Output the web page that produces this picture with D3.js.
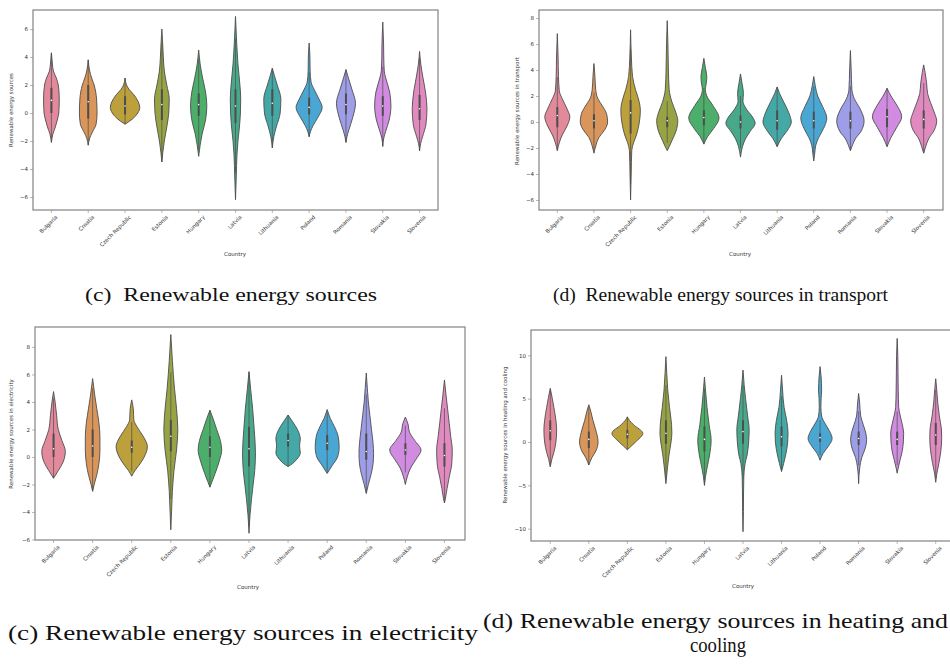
<!DOCTYPE html>
<html>
<head>
<meta charset="utf-8">
<script src="https://cdn.jsdelivr.net/npm/d3@7"></script>
<style>
  body { margin: 0; background: #fff; }
  svg { display: block; }
</style>
</head>
<body>
<svg id="chart" width="950" height="670"></svg>
<script>
// categories
const countries = ["Bulgaria", "Croatia", "Czech Republic", "Estonia", "Hungary", "Latvia",
  "Lithuania", "Poland", "Romania", "Slovakia", "Slovenia"];

// violin outlines: [value, density] from top to bottom
// (c) renewable energy sources
const ticksRes = [6, 4, 2, 0, -2, -4, -6];
const shapeRes = [
  [[4.3,0],[3.5,1],[3,2],[2.5,5],[2,7],[1,8],[0,7.5],[-0.5,6],[-1,4],[-1.5,1.5],[-2.1,0]],
  [[3.8,0],[3,1.5],[2.5,3.5],[2,6],[1,8.5],[0,9],[-0.8,8],[-1.4,4],[-1.8,1.5],[-2.3,0]],
  [[2.5,0],[2,1.5],[1.7,4],[1.3,9],[0.8,13.5],[0.4,15],[0,13],[-0.4,8],[-0.8,0]],
  [[6,0],[5,0.8],[4,1.5],[3,2.5],[2,5],[1,7.5],[0,7],[-1,5],[-2,2.5],[-2.8,1],[-3.5,0]],
  [[4.5,0],[3.5,1.5],[2.5,4],[1.5,7],[0.5,8.3],[-0.5,7],[-1.5,3.5],[-2.3,1.5],[-3.1,0]],
  [[6.9,0],[5,1.2],[3.5,2.5],[2,4.5],[1,5.3],[0,5],[-1,4],[-2,2.5],[-3,1.5],[-4.5,0.8],[-6.2,0]],
  [[3.2,0],[2.7,2],[2,5],[1,8.7],[0,8],[-1,4],[-1.7,1.5],[-2.5,0]],
  [[5,0],[4,0.8],[3,1],[2.2,2],[1.7,5],[1,10],[0.4,13.3],[-0.3,9],[-0.9,4],[-1.3,1.5],[-1.7,0]],
  [[3.1,0],[2.5,2.5],[1.7,6],[0.7,9.7],[-0.3,7],[-1.2,3],[-1.7,1],[-2.1,0]],
  [[6.5,0],[5,0.8],[4,1],[3,1.5],[2.5,3],[1.5,7],[0.5,8.3],[-0.5,6.5],[-1.3,3],[-1.8,1],[-2.4,0]],
  [[4.4,0],[3.5,1.2],[2.5,3.5],[1.5,6],[0.3,7.5],[-0.8,6.5],[-1.7,3],[-2.2,1],[-2.7,0]]
];
// [q1, median, q3]
const boxRes = [[0,0.9,1.8],[-0.4,0.8,2],[-0.1,0.5,1.2],[-0.5,0.6,1.7],[-0.2,0.6,1.4],[-0.7,0.5,1.7],
  [-0.2,0.7,1.7],[-0.1,0.4,1.1],[-0.1,0.6,1.4],[-0.2,0.5,1.2],[-0.5,0.3,1.3]];

// (d) renewable energy sources in transport
const ticksTra = [8, 6, 4, 2, 0, -2, -4, -6];
const shapeTra = [
  [[6.8,0],[5,0.8],[3.5,1.2],[2.4,2],[1.8,5],[1,10],[0.4,12.8],[-0.3,10],[-1,5],[-1.6,2],[-2.2,0]],
  [[4.5,0],[3.5,1],[2.5,1.8],[1.8,4],[1.2,9],[0.6,13],[0,14],[-0.6,11],[-1.2,5],[-1.8,2],[-2.4,0]],
  [[7.1,0],[5,0.8],[3.5,2],[2.5,5],[1.5,9],[0.9,10],[0,9],[-1,6],[-1.6,3],[-2.2,1.2],[-4,0.6],[-6,0]],
  [[7.8,0],[6,0.7],[4,1.2],[2.5,2],[1.5,5],[0.7,9],[0.1,10.8],[-0.7,9],[-1.4,5],[-1.9,2],[-2.2,0]],
  [[4.9,0],[4.2,1.5],[3.5,3],[3,2.5],[2.5,1.5],[2,3],[1.3,9],[0.3,15.5],[-0.5,10],[-1.1,4],[-1.7,0]],
  [[3.7,0],[3,1.5],[2.2,3],[1.6,2.5],[1,6],[0.3,13],[-0.1,15],[-0.7,10],[-1.3,5],[-1.9,2],[-2.7,0]],
  [[2.7,0],[2.2,2.5],[1.5,7],[0.7,12],[0,14.5],[-0.7,10],[-1.3,4],[-1.9,0]],
  [[3.5,0],[2.8,1.5],[2,4],[1.2,9],[0.3,13.3],[-0.5,10],[-1.2,5],[-1.8,2],[-2.4,1],[-3,0]],
  [[5.5,0],[4,0.8],[2.5,1.5],[1.8,4],[1,10],[0.1,14],[-0.7,11],[-1.3,5],[-1.8,2],[-2.2,0]],
  [[2.6,0],[2,4],[1.3,10],[0.4,15],[-0.4,10],[-1.2,4],[-1.9,0]],
  [[4.4,0],[3.8,1.5],[3,3],[2.2,4],[1.5,7],[0.7,11],[0.1,13.3],[-0.6,11],[-1.3,5],[-1.9,2],[-2.4,0]]
];
const boxTra = [[-0.4,0.5,1.15],[-0.5,0.1,0.6],[-0.9,0.7,1.7],[-0.4,0.1,0.4],[-0.25,0.35,0.9],[-0.5,0,0.5],
  [-0.6,0.1,0.9],[-0.5,0.1,0.8],[-0.5,0.1,0.8],[-0.4,0.4,1],[-0.5,0.2,0.9]];

// (c) renewable energy sources in electricity
const ticksEle = [8, 6, 4, 2, 0, -2, -4, -6];
const shapeEle = [
  [[4.75,0],[4,1.5],[3,3],[2,4.5],[1.2,8],[0.4,11.3],[-0.4,9],[-1,4.5],[-1.55,0]],
  [[5.7,0],[4.5,2],[3.5,4],[2.5,6],[1.5,7],[0.5,7],[-0.5,6],[-1.3,4],[-2,1.5],[-2.5,0]],
  [[4.15,0],[3.5,1.5],[2.7,2],[2.2,5],[1.5,11],[0.75,15],[0,12],[-0.6,7],[-1,3],[-1.4,0]],
  [[8.9,0],[7,1.5],[5,3.5],[3.5,5.5],[2,6.7],[0.5,5.5],[-1,3],[-2.5,1.5],[-4,0.7],[-5.3,0]],
  [[3.4,0],[2.8,3],[2,6.5],[1.2,10],[0.5,11.3],[-0.3,9],[-1.2,5],[-1.8,2],[-2.2,0]],
  [[6.2,0],[5,1.5],[3.5,3.5],[2,5],[0.3,6.2],[-1,5.5],[-2,4],[-3,2.5],[-4.2,1],[-5.55,0]],
  [[3.05,0],[2.6,4],[2,9],[1.3,11.7],[0.8,11],[0.3,11.7],[-0.2,8],[-0.5,4],[-0.7,0]],
  [[3.45,0],[2.8,3],[2.2,7],[1.5,10.5],[0.7,11.5],[0,10],[-0.6,5],[-1.2,0]],
  [[6.1,0],[5,1],[4,2],[3,3.5],[2,5],[1,6.5],[0.25,7],[-0.5,6.5],[-1.3,4.5],[-2,2],[-2.65,0]],
  [[2.9,0],[2.4,2.5],[1.8,4],[1.2,9],[0.5,15],[-0.2,10],[-0.8,5],[-1.4,2],[-2,0]],
  [[5.6,0],[4.5,1.5],[3.5,3],[2.5,4.5],[1.5,6],[0.5,7.5],[-0.5,7],[-1.5,4.5],[-2.3,2.5],[-3,1],[-3.35,0]]
];
const boxEle = [[0,0.6,1.7],[0,0.8,2],[0.3,0.7,1.2],[0.4,1.5,2.7],[0,0.7,1.5],[-0.7,0.6,2.2],
  [0.75,1.2,1.7],[0.5,1,1.6],[-0.2,0.4,1.7],[0.15,0.5,1],[-0.7,0.1,1]];

// (d) renewable energy sources in heating and cooling
const ticksHea = [10, 5, 0, -5, -10];
const shapeHea = [
  [[6.2,0],[5,2],[4,3.5],[2.5,5.5],[1.4,6.2],[0,5.5],[-1.2,3.5],[-2,1.5],[-2.85,0]],
  [[4.3,0],[3.5,2],[2.5,4],[1.5,6.5],[0,9],[-1,7],[-1.8,3],[-2.65,0]],
  [[2.9,0],[2.5,2],[2,6],[1,15],[0,8],[-0.5,3.5],[-0.9,0]],
  [[9.85,0],[8,0.8],[6,1.8],[4,3.5],[2,5.5],[1,5.8],[0,5],[-1.5,3],[-3,1.5],[-4.8,0]],
  [[7.5,0],[6,1],[4,2.5],[2,4.5],[0.2,6.5],[-1.5,5],[-3,2.5],[-4,1],[-5,0]],
  [[8.3,0],[6.5,1.2],[5,2.5],[3,4.5],[1.4,6],[0,5.5],[-1.5,4],[-2.5,2],[-4,0.8],[-6,0.5],[-8,0.4],[-10.35,0]],
  [[7.7,0],[6,1],[4,2.5],[2.5,5],[1,6.3],[0,6],[-1.5,4],[-2.5,2],[-3.4,0]],
  [[8.7,0],[7.5,1],[6,1.5],[5,1],[4,0.8],[3,1.5],[2.3,4],[1.3,9],[0.4,11.7],[-0.5,8],[-1.3,3],[-2.1,0]],
  [[5.6,0],[4.5,1],[3,2],[2,4.5],[1,7],[0.3,7.8],[-0.7,6.5],[-1.8,3],[-3,1],[-4.8,0]],
  [[11.95,0],[10,0.6],[8,0.8],[6,1],[4,1.5],[3,3],[2,5],[1,6.3],[0,6],[-1,5],[-2,3],[-3,1],[-3.6,0]],
  [[7.3,0],[6,1],[4.5,2],[3,3.5],[1.5,5.5],[0.5,5.8],[-1,5],[-2.5,3],[-3.7,1],[-4.65,0]]
];
const boxHea = [[0.2,1.3,2.5],[-0.7,0.3,1.2],[0.4,0.9,1.4],[-0.2,1,2.5],[-1.1,0.3,1.8],[-0.2,1.2,2.5],
  [-0.5,0.6,1.8],[0,0.5,1],[-0.35,0.4,1.2],[-0.35,0.3,1.2],[-0.35,0.8,2.2]];

// fill colours (desaturated husl, one per country)
const palette = ["#e3899c", "#d9955a", "#bba03c", "#98a444", "#4cae6b", "#47a88a",
  "#43a8a6", "#4aa7d3", "#9e9de8", "#d18be0", "#e08abf"];

// layout of the four panels
const panels = [
  { shape: shapeRes, box: boxRes, ticks: ticksRes, ylabel: "Renewable energy sources",
    frame: [33, 438, 10, 210], band: [33, 438], yDom: [-6.93, 7.36],
    yl: [13, 110], xl: [235, 256],
    caption: ["(c)  Renewable energy sources"], cap: [[85, 301, 292, 18]] },
  { shape: shapeTra, box: boxTra, ticks: ticksTra, ylabel: "Renewable energy sources in transport",
    frame: [539, 943, 10, 210], band: [539, 942], yDom: [-6.77, 8.62],
    yl: [519, 111], xl: [740, 256],
    caption: ["(d)  Renewable energy sources in transport"], cap: [[553, 301, 335, 18]] },
  { shape: shapeEle, box: boxEle, ticks: ticksEle, ylabel: "Renewable energy sources in electricity",
    frame: [35, 465, 327, 540], band: [34, 464], yDom: [-6.04, 9.45],
    yl: [13, 434], xl: [248, 589],
    caption: ["(c) Renewable energy sources in electricity"], cap: [[8, 640, 470, 21]] },
  { shape: shapeHea, box: boxHea, ticks: ticksHea, ylabel: "Renewable energy sources in heating and cooling",
    frame: [531, 958, 330, 541], band: [531, 955], yDom: [-11.42, 12.92],
    yl: [507, 435], xl: [743, 588],
    caption: ["(d) Renewable energy sources in heating and", "cooling"],
    cap: [[483, 628, 465, 21], [690, 652, 56, 21]] }
];

const svg = d3.select("#chart");
const tickFont = "DejaVu Sans, sans-serif";
const edge = "#4d4d4d";

panels.forEach(p => {
  const [fx0, fx1, fy0, fy1] = p.frame;
  const g = svg.append("g");

  const x = d3.scaleBand().domain(countries).range(p.band).paddingInner(0).paddingOuter(0);
  const y = d3.scaleLinear().domain(p.yDom).range([fy1, fy0]);
  const dens = d3.scaleLinear().domain([0, 15]).range([0, x.bandwidth() * 0.4]);

  // frame
  g.append("rect")
    .attr("x", fx0).attr("y", fy0)
    .attr("width", fx1 - fx0).attr("height", fy1 - fy0)
    .attr("fill", "none").attr("stroke", "#8c8c8c").attr("stroke-width", 1.3);

  // axes
  const yAxis = d3.axisLeft(y).tickValues(p.ticks).tickSize(3).tickPadding(2)
    .tickFormat(d => d < 0 ? "\u2212" + Math.abs(d) : d);
  g.append("g").attr("transform", "translate(" + fx0 + ",0)").call(yAxis)
    .call(a => a.select(".domain").remove())
    .call(a => a.selectAll("line").attr("stroke", "#888").attr("stroke-width", 0.6))
    .call(a => a.selectAll("text").attr("font-size", 5.5).attr("font-family", tickFont).attr("fill", "#333"));

  const xAxis = d3.axisBottom(x).tickSize(3).tickPadding(2);
  g.append("g").attr("transform", "translate(0," + fy1 + ")").call(xAxis)
    .call(a => a.select(".domain").remove())
    .call(a => a.selectAll("line").attr("stroke", "#888").attr("stroke-width", 0.6))
    .call(a => a.selectAll("text")
      .attr("font-size", 5.5).attr("font-family", tickFont).attr("fill", "#333")
      .attr("text-anchor", "end").attr("dy", 0)
      .attr("transform", "translate(3,4) rotate(-45)"));

  // axis titles
  g.append("text")
    .attr("transform", "translate(" + p.yl[0] + "," + p.yl[1] + ") rotate(-90)")
    .attr("text-anchor", "middle").attr("font-size", 5.5).attr("font-family", tickFont)
    .attr("fill", "#333").text(p.ylabel);
  g.append("text")
    .attr("x", p.xl[0]).attr("y", p.xl[1])
    .attr("text-anchor", "middle").attr("font-size", 5.5).attr("font-family", tickFont)
    .attr("fill", "#333").text("Country");

  // violins
  const plot = g.append("g");
  countries.forEach((c, i) => {
    const cx = x(c) + x.bandwidth() / 2;
    const pts = p.shape[i];
    const area = d3.area()
      .y(d => y(d[0]))
      .x0(d => cx - dens(d[1]))
      .x1(d => cx + dens(d[1]))
      .curve(d3.curveMonotoneY);
    plot.append("path")
      .attr("d", area(pts.slice().reverse()))
      .attr("fill", palette[i])
      .attr("stroke", edge).attr("stroke-width", 0.9);

    // inner box: whiskers, quartile bar, median dot
    const [q1, med, q3] = p.box[i];
    const lo = d3.min(pts, d => d[0]), hi = d3.max(pts, d => d[0]);
    const iqr = q3 - q1;
    const wLo = Math.max(lo, q1 - 1.5 * iqr), wHi = Math.min(hi, q3 + 1.5 * iqr);
    plot.append("line")
      .attr("x1", cx).attr("x2", cx).attr("y1", y(wLo)).attr("y2", y(wHi))
      .attr("stroke", edge).attr("stroke-width", 0.7);
    plot.append("line")
      .attr("x1", cx).attr("x2", cx).attr("y1", y(q1)).attr("y2", y(q3))
      .attr("stroke", edge).attr("stroke-width", 2);
    plot.append("circle")
      .attr("cx", cx).attr("cy", y(med)).attr("r", 0.8)
      .attr("fill", "#fff");
  });

  // caption
  p.caption.forEach((t, k) => {
    svg.append("text")
      .attr("x", p.cap[k][0]).attr("y", p.cap[k][1])
      .attr("textLength", p.cap[k][2]).attr("lengthAdjust", "spacingAndGlyphs")
      .attr("font-family", "Liberation Serif, Times New Roman, serif")
      .attr("font-size", p.cap[k][3]).attr("fill", "#111")
      .attr("xml:space", "preserve")
      .text(t);
  });
});
</script>
</body>
</html>
